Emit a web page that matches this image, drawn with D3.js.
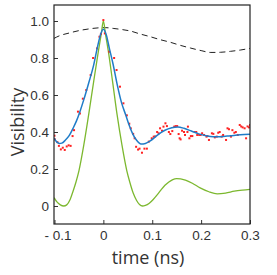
<!DOCTYPE html>
<html>
<head>
<meta charset="utf-8">
<script src="https://cdn.jsdelivr.net/npm/d3@7"></script>
<style>
  body { margin: 0; background: #fff; }
  svg { display: block; font-family: "Open Sans", sans-serif; }
  .tick text { fill: #333; font-size: 13.5px; }
  .tick line { stroke: #333; }
  .label { fill: #333; font-size: 18px; }
</style>
</head>
<body>
<svg width="277" height="275"></svg>
<script>
// ticks
const xTicks = [-0.1, 0, 0.1, 0.2, 0.3];
const xTickLabels = ['- 0.1', '0', '0.1', '0.2', '0.3'];
const yTicks = [0, 0.2, 0.4, 0.6, 0.8, 1.0];
const yTickLabels = ['0', '0.2', '0.4', '0.6', '0.8', '1.0'];

// dashed black curve
const dashX = [-0.101, -0.09, -0.07, -0.05, -0.03, -0.01, 0.005, 0.02, 0.04, 0.055, 0.075, 0.096, 0.115, 0.137, 0.158, 0.178, 0.2, 0.22, 0.24, 0.26, 0.28, 0.3];
const dashY = [0.906, 0.92, 0.935, 0.948, 0.957, 0.963, 0.964, 0.96, 0.953, 0.946, 0.93, 0.915, 0.9, 0.885, 0.868, 0.854, 0.84, 0.83, 0.831, 0.836, 0.843, 0.852];

// blue fit
const blueX = [-0.101, -0.095, -0.09, -0.085, -0.078, -0.07, -0.062, -0.055, -0.048, -0.04, -0.03, -0.02, -0.012, -0.006, 0, 0.006, 0.012, 0.02, 0.028, 0.037, 0.046, 0.053, 0.06, 0.068, 0.077, 0.086, 0.096, 0.11, 0.125, 0.14, 0.152, 0.165, 0.18, 0.195, 0.21, 0.225, 0.24, 0.26, 0.28, 0.3];
const blueY = [0.367, 0.345, 0.338, 0.34, 0.355, 0.38, 0.42, 0.46, 0.51, 0.575, 0.665, 0.76, 0.86, 0.925, 0.955, 0.925, 0.855, 0.765, 0.66, 0.56, 0.49, 0.435, 0.39, 0.355, 0.335, 0.338, 0.352, 0.382, 0.408, 0.423, 0.427, 0.42, 0.405, 0.39, 0.38, 0.375, 0.375, 0.38, 0.385, 0.388];

// green curve
const greenX = [-0.101, -0.095, -0.088, -0.081, -0.075, -0.068, -0.062, -0.056, -0.05, -0.04, -0.03, -0.02, -0.01, -0.004, 0, 0.004, 0.01, 0.019, 0.028, 0.038, 0.048, 0.054, 0.061, 0.068, 0.074, 0.08, 0.086, 0.094, 0.102, 0.11, 0.118, 0.126, 0.134, 0.142, 0.15, 0.158, 0.168, 0.182, 0.198, 0.216, 0.233, 0.25, 0.268, 0.285, 0.3];
const greenY = [0.045, 0.022, 0.006, 0.0, 0.006, 0.035, 0.08, 0.13, 0.19, 0.33, 0.495, 0.67, 0.84, 0.935, 1.0, 0.935, 0.84, 0.67, 0.495, 0.33, 0.19, 0.13, 0.07, 0.03, 0.008, 0.0, 0.003, 0.015, 0.035, 0.06, 0.087, 0.112, 0.13, 0.143, 0.148, 0.147, 0.14, 0.123, 0.098, 0.077, 0.066, 0.07, 0.08, 0.086, 0.09];

// measured points (red)
const pointX = [-0.1, -0.099, -0.094, -0.091, -0.087, -0.083, -0.079, -0.075, -0.071, -0.067, -0.063, -0.06, -0.052, -0.048, -0.042, -0.035, -0.026, -0.021, -0.013, -0.008, -0.005, 0, 0.003, 0.012, 0.022, 0.027, 0.034, 0.041, 0.048, 0.053, 0.056, 0.061, 0.064, 0.067, 0.071, 0.074, 0.079, 0.084, 0.089, 0.093, 0.099, 0.103, 0.106, 0.11, 0.113, 0.116, 0.12, 0.123, 0.127, 0.13, 0.134, 0.137, 0.141, 0.145, 0.148, 0.151, 0.154, 0.156, 0.158, 0.161, 0.165, 0.167, 0.172, 0.173, 0.176, 0.179, 0.182, 0.187, 0.19, 0.192, 0.196, 0.199, 0.202, 0.206, 0.211, 0.213, 0.216, 0.222, 0.225, 0.228, 0.232, 0.235, 0.238, 0.242, 0.245, 0.251, 0.254, 0.257, 0.261, 0.264, 0.268, 0.271, 0.275, 0.279, 0.282, 0.285, 0.289, 0.292, 0.295, 0.298, 0.3];
const pointY = [0.38, 0.36, 0.345, 0.325, 0.306, 0.315, 0.303, 0.322, 0.328, 0.325, 0.378, 0.41, 0.51, 0.5, 0.58, 0.627, 0.708, 0.8, 0.852, 0.915, 0.93, 1.005, 0.933, 0.834, 0.8, 0.735, 0.645, 0.555, 0.49, 0.445, 0.42, 0.39, 0.366, 0.32, 0.305, 0.31, 0.288, 0.31, 0.31, 0.348, 0.366, 0.375, 0.376, 0.4, 0.393, 0.42, 0.407, 0.429, 0.447, 0.432, 0.4, 0.389, 0.405, 0.429, 0.432, 0.432, 0.389, 0.366, 0.36, 0.407, 0.4, 0.384, 0.4, 0.429, 0.366, 0.378, 0.378, 0.4, 0.4, 0.384, 0.384, 0.384, 0.393, 0.384, 0.375, 0.378, 0.357, 0.393, 0.39, 0.371, 0.375, 0.396, 0.4, 0.375, 0.384, 0.357, 0.42, 0.415, 0.375, 0.41, 0.396, 0.4, 0.384, 0.438, 0.43, 0.425, 0.42, 0.366, 0.43, 0.425, 0.438];

const plotLeft = 54, plotRight = 250, plotTop = 5, plotBottom = 224;
const svg = d3.select('svg');

const x = d3.scaleLinear().domain([-0.101, 0.3]).range([plotLeft, plotRight]);
const y = d3.scaleLinear().domain([-0.0973, 1.0865]).range([plotBottom, plotTop]);

const zip = (xs, ys) => xs.map((v, i) => [v, ys[i]]);

svg.append('defs').append('clipPath').attr('id', 'plot')
  .append('rect')
    .attr('x', plotLeft).attr('y', plotTop)
    .attr('width', plotRight - plotLeft).attr('height', plotBottom - plotTop);

const line = d3.line()
  .x(d => x(d[0]))
  .y(d => y(d[1]))
  .curve(d3.curveMonotoneX);

const plot = svg.append('g').attr('clip-path', 'url(#plot)');

plot.append('path')
  .attr('d', line(zip(dashX, dashY)))
  .attr('fill', 'none')
  .attr('stroke', '#222')
  .attr('stroke-width', 1)
  .attr('stroke-dasharray', '6,4');

plot.append('path')
  .attr('d', line(zip(greenX, greenY)))
  .attr('fill', 'none')
  .attr('stroke', '#7cb82f')
  .attr('stroke-width', 1.3);

plot.selectAll('rect.pt')
  .data(zip(pointX, pointY))
  .enter()
  .append('rect')
    .attr('class', 'pt')
    .attr('x', d => x(d[0]) - 1)
    .attr('y', d => y(d[1]) - 1)
    .attr('width', 2)
    .attr('height', 2)
    .attr('fill', '#f22');

plot.append('path')
  .attr('d', line(zip(blueX, blueY)))
  .attr('fill', 'none')
  .attr('stroke', '#1f7cc8')
  .attr('stroke-width', 1.5);

// axes, ticks pointing in
const yAxis = d3.axisLeft(y)
  .tickValues(yTicks)
  .tickFormat((d, i) => yTickLabels[i])
  .tickSizeInner(-4)
  .tickSizeOuter(0)
  .tickPadding(5);
svg.append('g')
    .attr('transform', `translate(${plotLeft},0)`)
  .call(yAxis)
  .call(g => g.select('.domain').remove());

const xAxis = d3.axisBottom(x)
  .tickValues(xTicks)
  .tickFormat((d, i) => xTickLabels[i])
  .tickSizeInner(-4)
  .tickSizeOuter(0)
  .tickPadding(6);
svg.append('g')
    .attr('transform', `translate(0,${plotBottom})`)
  .call(xAxis)
  .call(g => g.select('.domain').remove())
  .selectAll('text')
    .attr('dx', (d, i) => i === 0 ? 3 : 0);

svg.append('rect')
  .attr('x', plotLeft).attr('y', plotTop)
  .attr('width', plotRight - plotLeft).attr('height', plotBottom - plotTop)
  .attr('fill', 'none')
  .attr('stroke', '#222')
  .attr('stroke-width', 1.2);

svg.append('text')
  .attr('class', 'label')
  .attr('text-anchor', 'middle')
  .attr('x', 148)
  .attr('y', 264)
  .text('time (ns)');

svg.append('text')
  .attr('class', 'label')
  .attr('text-anchor', 'middle')
  .attr('transform', 'translate(24,122) rotate(-90)')
  .text('Visibility');
</script>
</body>
</html>
